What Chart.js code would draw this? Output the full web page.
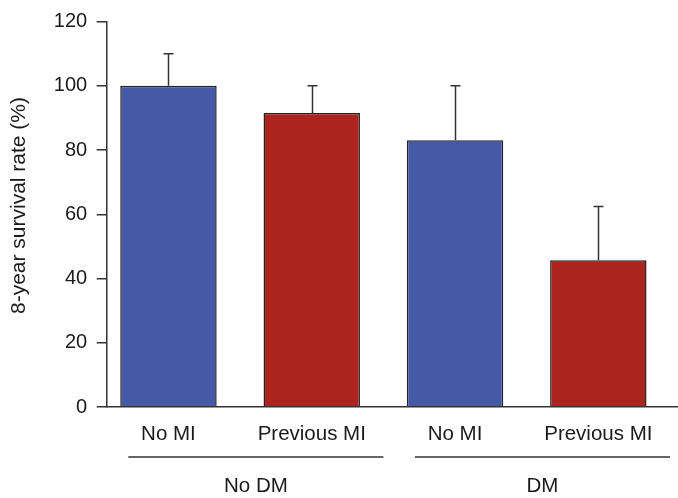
<!DOCTYPE html>
<html>
<head>
<meta charset="utf-8">
<script src="https://cdn.jsdelivr.net/npm/chart.js@4"></script>
<style>
    html, body { margin: 0; padding: 0; background: #fff; }
    canvas { display: block; }
</style>
</head>
<body>
<canvas id="survivalChart" width="678" height="498"></canvas>
<script>
// Values
const categories = ['No MI', 'Previous MI', 'No MI', 'Previous MI'];
const survival = [100, 91.5, 83, 45.7];
const upperError = [110, 100, 100, 62.4];
const groupLabels = ['No DM', 'DM'];
const groupMembers = [[0, 1], [2, 3]];
const yTicks = [0, 20, 40, 60, 80, 100, 120];

const FONT = '"Liberation Sans", Arial, sans-serif';
const BLUE = '#4659a7';
const RED = '#ad241e';

// error bars (upper whisker only)
const errorBars = {
    id: 'errorBars',
    afterDatasetsDraw(chart) {
        const { ctx, scales: { x, y } } = chart;
        ctx.save();
        ctx.strokeStyle = '#333';
        ctx.lineWidth = 1.5;
        survival.forEach(function(v, i) {
            const px = Math.round(x.getPixelForValue(i + 1)) + 0.5;
            const top = y.getPixelForValue(upperError[i]);
            const base = y.getPixelForValue(v);
            ctx.beginPath();
            ctx.moveTo(px, base);
            ctx.lineTo(px, top);
            ctx.moveTo(px - 5, top);
            ctx.lineTo(px + 5, top);
            ctx.stroke();
        });
        ctx.restore();
    }
};

// group lines and labels under the category labels
const groupAxis = {
    id: 'groupAxis',
    afterDraw(chart) {
        const { ctx, chartArea, scales: { x } } = chart;
        ctx.save();
        ctx.strokeStyle = '#333';
        ctx.lineWidth = 1.5;
        ctx.fillStyle = '#1a1a1a';
        ctx.font = '20.5px ' + FONT;
        ctx.textAlign = 'center';
        ctx.textBaseline = 'middle';
        groupLabels.forEach(function(label, g) {
            const first = groupMembers[g][0];
            const last = groupMembers[g][groupMembers[g].length - 1];
            const x1 = x.getPixelForValue(first + 1 - 0.28);
            const x2 = x.getPixelForValue(last + 1 + 0.5);
            const lineY = chartArea.bottom + 50;
            ctx.beginPath();
            ctx.moveTo(x1, lineY);
            ctx.lineTo(x2, lineY);
            ctx.stroke();
            ctx.fillText(label, (x1 + x2) / 2, chartArea.bottom + 79);
        });
        ctx.restore();
    }
};

const ctx = document.getElementById('survivalChart').getContext('2d');

new Chart(ctx, {
    type: 'bar',
    data: {
        datasets: [{
            data: survival.map(function(v, i) { return { x: i + 1, y: v }; }),
            backgroundColor: [BLUE, RED, BLUE, RED],
            borderColor: '#222',
            borderWidth: 1.5,
            categoryPercentage: 1,
            barPercentage: 0.673
        }]
    },
    options: {
        responsive: false,
        animation: false,
        devicePixelRatio: 1,
        layout: {
            padding: { top: 15.7, right: 0, bottom: 0, left: 0 }
        },
        plugins: {
            legend: { display: false },
            tooltip: { enabled: false }
        },
        scales: {
            x: {
                type: 'linear',
                bounds: 'data',
                offset: false,
                min: 0.569,
                max: 4.556,
                afterBuildTicks: function(scale) {
                    scale.ticks = categories.map(function(c, i) { return { value: i + 1 }; });
                },
                afterFit: function(scale) {
                    scale.height = 91;
                },
                grid: { display: false, drawTicks: false, offset: false },
                border: { color: '#333', width: 1.5 },
                ticks: {
                    autoSkip: false,
                    maxRotation: 0,
                    padding: 15,
                    color: '#1a1a1a',
                    font: { family: FONT, size: 20.5 },
                    callback: function(value, index) {
                        return categories[index];
                    }
                }
            },
            y: {
                min: 0,
                max: 120,
                afterBuildTicks: function(scale) {
                    scale.ticks = yTicks.map(function(v) { return { value: v }; });
                },
                afterFit: function(scale) {
                    scale.width = 106.7;
                },
                grid: {
                    drawOnChartArea: false,
                    drawTicks: true,
                    tickLength: 10,
                    color: '#333',
                    lineWidth: 1.5
                },
                border: { color: '#333', width: 1.5 },
                ticks: {
                    padding: 9.5,
                    color: '#1a1a1a',
                    font: { family: FONT, size: 20 }
                },
                title: {
                    display: true,
                    text: '   8-year survival rate (%)',
                    color: '#1a1a1a',
                    font: { family: FONT, size: 21 },
                    padding: { top: 6.4, bottom: 0 }
                }
            }
        }
    },
    plugins: [errorBars, groupAxis]
});
</script>
</body>
</html>
